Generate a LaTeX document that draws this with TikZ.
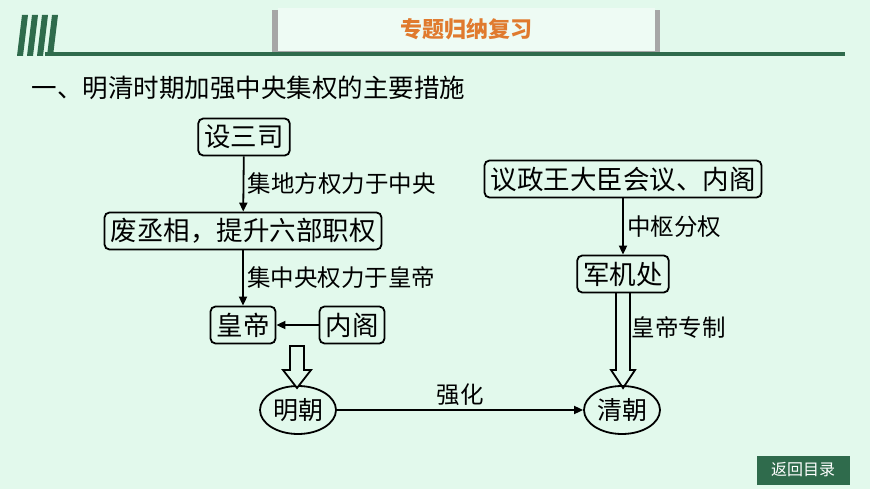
\documentclass[tikz,border=0pt]{standalone}
\usepackage{fontspec}
\setmainfont{Noto Sans CJK SC}
\usetikzlibrary{shapes.geometric,arrows.meta}
\definecolor{bg}{HTML}{E2F9EC}
\definecolor{dg}{HTML}{2F6B4C}
\definecolor{org}{HTML}{E07A2E}
\tikzset{
 bx/.style={draw,line width=1.8pt,rounded corners=5pt,inner xsep=6pt,minimum height=37pt,font=\fontsize{26.5}{28}\selectfont},
 el/.style={draw,line width=1.8pt,ellipse,inner sep=0pt,minimum width=76pt,minimum height=48pt,font=\fontsize{25}{27}\selectfont},
 lb/.style={font=\fontsize{23.5}{25}\selectfont,anchor=west},
 ar/.style={line width=1.8pt,-{Triangle[length=9pt,width=8pt]}},
}
\begin{document}
\begin{tikzpicture}[x=1pt,y=-1pt]
\useasboundingbox (0,0) rectangle (870,489);
\fill[bg] (0,0) rectangle (870,489);
% header
\foreach \i in {0,1,2,3}{\fill[dg] (17+\i*10,56)--(23+\i*10,56)--(28+\i*10,15)--(22+\i*10,15)--cycle;}
\fill[dg] (45,52) rectangle (845,56);
\fill[gray!70] (272,10) rectangle (660,52);
\fill[bg!60!white] (278,8) rectangle (655,51);
\node[text=org,font=\fontsize{22}{24}\selectfont\bfseries] (hd) at (466,29) {专题归纳复习};
\node[anchor=west,font=\fontsize{25.5}{27}\selectfont] (tt) at (28,88) {一、明清时期加强中央集权的主要措施};
% left
\node[bx] (s) at (244,137) {设三司};
\node[bx] (f) at (243,231) {废丞相，提升六部职权};
\node[bx] (h) at (243,325) {皇帝};
\node[bx] (n) at (352,325) {内阁};
\node[el] (m) at (298,410) {明朝};
\draw[ar] (s) -- (f) node[midway,lb,xshift=0pt] {集地方权力于中央};
\draw[ar] (f) -- (h) node[midway,lb,xshift=0pt] {集中央权力于皇帝};
\draw[ar] (n) -- (h);
\draw[line width=1.8pt,fill=bg] (290,346) -- (290,370) -- (283,370) -- (297,388) -- (311,370) -- (304,370) -- (304,346) -- cycle;
% right
\node[bx] (y) at (623,179) {议政王大臣会议、内阁};
\node[bx] (j) at (623,274) {军机处};
\node[el] (q) at (622,410) {清朝};
\draw[ar] (y) -- (j) node[midway,lb,xshift=0pt] {中枢分权};
\draw[line width=1.8pt] (616,293) -- (616,370) -- (611,370) -- (623,388) -- (635,370) -- (630,370) -- (630,293);
\node[lb] (hz) at (628,328) {皇帝专制};
\draw[ar] (m) -- (q) node[midway,above,font=\fontsize{23.5}{25}\selectfont] {强化};
% button
\node[fill=dg,text=white,minimum width=93pt,minimum height=29pt,inner sep=0pt,font=\fontsize{16}{18}\selectfont] (b) at (803,470) {返回目录};
\end{tikzpicture}
\end{document}
